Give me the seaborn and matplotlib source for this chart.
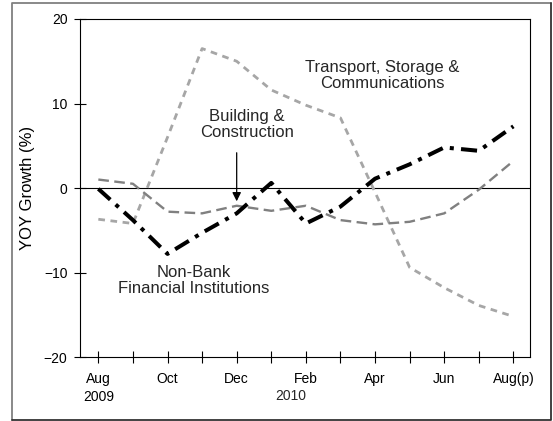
import matplotlib
matplotlib.use("Agg")
import matplotlib.pyplot as plt
import matplotlib.lines as mlines
import seaborn as sns
import pandas as pd

# month index 0 = Aug 2009 ... 12 = Aug 2010 (p)
months = list(range(13))
month_labels = ["Aug\n2009", "", "Oct", "", "Dec", "", "Feb", "", "Apr", "", "Jun", "", "Aug(p)"]

non_bank = [-0.1, -3.8, -7.8, -5.3, -3.0, 0.6, -4.2, -2.2, 1.1, 2.8, 4.8, 4.4, 7.3]
building = [1.0, 0.5, -2.8, -3.0, -2.1, -2.7, -2.1, -3.8, -4.3, -4.0, -3.0, -0.2, 3.2]
transport = [-3.7, -4.2, 6.0, 16.5, 15.0, 11.6, 9.8, 8.3, -0.5, -9.4, -11.8, -13.9, -15.2]

df = pd.DataFrame({
    "month": months,
    "Non-Bank Financial Institutions": non_bank,
    "Building & Construction": building,
    "Transport, Storage & Communications": transport,
})

sns.set_style("ticks")
plt.rcParams["font.family"] = ["Liberation Sans", "DejaVu Sans"]

fig = plt.figure(figsize=(5.53, 4.21), dpi=100)
ax = fig.add_axes([80 / 553, 1 - 357 / 421, 450 / 553, 338 / 421])

ax.axhline(0, color="black", lw=0.8, zorder=1)

sns.lineplot(data=df, x="month", y="Transport, Storage & Communications", ax=ax,
             color="#a6a6a6", linewidth=2.0, linestyle=(0, (2.4, 2.0)))
sns.lineplot(data=df, x="month", y="Building & Construction", ax=ax,
             color="#808080", linewidth=1.7, linestyle=(0, (4.5, 2.3)))
sns.lineplot(data=df, x="month", y="Non-Bank Financial Institutions", ax=ax,
             color="black", linewidth=2.9, linestyle=(0, (4.0, 1.8, 1.0, 1.8)))

ax.set_xlim(-0.53, 12.48)
ax.set_ylim(-20, 20)
ax.set_yticks([-20, -10, 0, 10, 20])
ax.set_xticks(months)
ax.set_xticklabels(month_labels, linespacing=1.35)
ax.tick_params(axis="both", direction="inout", length=8, width=0.8, color="black",
               labelsize=10, labelcolor="black")
ax.tick_params(axis="x", pad=7)
ax.tick_params(axis="y", pad=5)
for s in ax.spines.values():
    s.set_color("black")
    s.set_linewidth(0.8)

ax.set_xlabel("")
ax.set_ylabel("YOY Growth (%)", fontsize=12, color="black", labelpad=6)

ax.annotate("2010", xy=(5.55, 0), xycoords=("data", "axes fraction"),
            xytext=(0, -28), textcoords="offset points", ha="center", va="center",
            fontsize=10)

ax.text(8.2, 13.3, "Transport, Storage &\nCommunications", ha="center", va="center",
        fontsize=12, linespacing=1.1)
ax.text(4.3, 7.5, "Building &\nConstruction", ha="center", va="center",
        fontsize=12, linespacing=1.1)
ax.text(2.75, -10.9, "Non-Bank\nFinancial Institutions", ha="center", va="center",
        fontsize=12, linespacing=1.1)
ax.annotate("", xy=(4, -1.9), xytext=(4, 4.5),
            arrowprops=dict(arrowstyle="-|>", color="black", lw=0.9, mutation_scale=13))

# outer frame
fig.add_artist(mlines.Line2D([12 / 553, 12 / 553, 551 / 553], [1 / 421, 1 - 3 / 421, 1 - 3 / 421],
                             color="#808080", lw=1.3, transform=fig.transFigure))
fig.add_artist(mlines.Line2D([12 / 553, 551 / 553, 551 / 553], [1 / 421, 1 / 421, 1 - 3 / 421],
                             color="#333333", lw=1.3, transform=fig.transFigure))

fig.savefig("out.png", dpi=100)
